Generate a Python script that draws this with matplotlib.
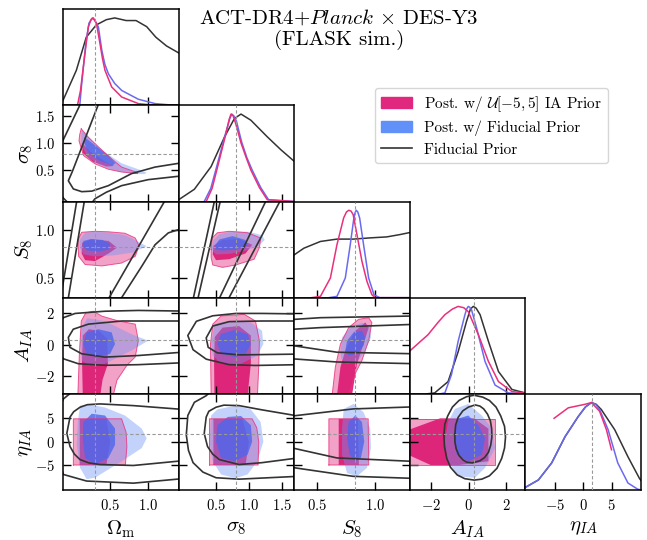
import matplotlib
matplotlib.use('Agg')
import matplotlib.pyplot as plt
from matplotlib.patches import Patch
from matplotlib.lines import Line2D

plt.rcParams['font.family'] = 'serif'
plt.rcParams['font.serif'] = ['cmr10']
plt.rcParams['mathtext.fontset'] = 'cm'
plt.rcParams['axes.unicode_minus'] = False
plt.rcParams['axes.formatter.use_mathtext'] = True

# parameters
labels = [r'$\Omega_{\rm m}$', r'$\sigma_8$', r'$S_8$', r'$A_{IA}$', r'$\eta_{IA}$']
limits = [(-0.12, 1.40), (-0.07, 1.69), (0.30, 1.30), (-3.1, 3.0), (-10.2, 10.2)]
ticks = [[0.5, 1.0], [0.5, 1.0, 1.5], [0.5, 1.0], [-2, 0, 2], [-5, 0, 5]]
truth = [0.30, 0.80, 0.83, 0.30, 1.6]

# ---- 1D marginals (x, normalised density) ----
om_pink_x = [0.07, 0.11, 0.147, 0.185, 0.213, 0.248, 0.279, 0.32, 0.366, 0.40, 0.432, 0.52, 0.652, 0.87, 1.1, 1.4]
om_pink_p = [0.0, 0.17, 0.44, 0.71, 0.897, 0.98, 1.0, 0.936, 0.707, 0.53, 0.40, 0.21, 0.095, 0.02, 0.0, 0.0]
om_blue_x = [0.10, 0.126, 0.18, 0.221, 0.265, 0.30, 0.345, 0.39, 0.43, 0.477, 0.56, 0.652, 0.87, 1.09, 1.35, 1.4]
om_blue_p = [0.0, 0.25, 0.71, 0.94, 1.0, 0.97, 0.897, 0.63, 0.47, 0.36, 0.25, 0.17, 0.07, 0.02, 0.0, 0.0]
om_prior_x = [-0.12, 0.055, 0.186, 0.318, 0.45, 0.56, 0.71, 0.84, 0.98, 1.1, 1.24, 1.40]
om_prior_p = [0.057, 0.40, 0.78, 0.92, 0.98, 1.0, 0.97, 0.97, 0.90, 0.78, 0.68, 0.60]

sig8_pink_x = [0.35, 0.44, 0.525, 0.652, 0.70, 0.728, 0.76, 0.80, 0.88, 0.96, 1.03, 1.16, 1.28, 1.69]
sig8_pink_p = [0.0, 0.15, 0.40, 0.78, 0.94, 1.0, 0.98, 0.89, 0.67, 0.50, 0.36, 0.16, 0.02, 0.0]
sig8_blue_x = [0.32, 0.42, 0.51, 0.645, 0.71, 0.74, 0.77, 0.81, 0.89, 0.97, 1.05, 1.18, 1.30, 1.69]
sig8_blue_p = [0.0, 0.15, 0.40, 0.78, 0.95, 1.0, 0.98, 0.92, 0.68, 0.50, 0.36, 0.16, 0.02, 0.0]
sig8_prior_x = [-0.07, 0.17, 0.425, 0.63, 0.78, 0.88, 1.03, 1.28, 1.49, 1.69]
sig8_prior_p = [0.02, 0.14, 0.40, 0.74, 0.95, 1.0, 0.93, 0.74, 0.59, 0.46]

S8_pink_x = [0.45, 0.527, 0.613, 0.67, 0.728, 0.752, 0.772, 0.792, 0.81, 0.843, 0.886, 0.929, 0.972, 1.0, 1.3]
S8_pink_p = [0.0, 0.015, 0.225, 0.607, 0.913, 0.98, 1.0, 0.99, 0.95, 0.72, 0.416, 0.187, 0.034, 0.0, 0.0]
S8_blue_x = [0.6, 0.67, 0.742, 0.785, 0.814, 0.826, 0.837, 0.85, 0.866, 0.90, 0.944, 0.99, 1.04, 1.3]
S8_blue_p = [0.0, 0.015, 0.225, 0.607, 0.89, 0.97, 1.0, 0.98, 0.913, 0.607, 0.225, 0.034, 0.0, 0.0]
S8_prior_x = [0.30, 0.384, 0.527, 0.67, 0.814, 0.958, 1.1, 1.216, 1.30]
S8_prior_p = [0.49, 0.566, 0.643, 0.67, 0.67, 0.684, 0.695, 0.722, 0.745]

A_pink_x = [-3.1, -3.03, -2.14, -1.6, -1.25, -0.85, -0.55, -0.25, -0.015, 0.52, 1.05, 1.58, 2.29, 3.0]
A_pink_p = [0.49, 0.504, 0.676, 0.82, 0.905, 0.97, 1.0, 0.985, 0.94, 0.676, 0.37, 0.14, 0.026, 0.008]
A_blue_x = [-1.5, -1.25, -0.9, -0.55, -0.19, -0.1, -0.015, 0.06, 0.16, 0.43, 0.87, 1.4, 2.11, 3.0]
A_blue_p = [0.0, 0.01, 0.22, 0.6, 0.905, 0.97, 1.0, 0.99, 0.96, 0.75, 0.37, 0.10, 0.01, 0.0]
A_prior_x = [-2.2, -1.79, -1.08, -0.55, -0.105, 0.1, 0.25, 0.4, 0.61, 1.05, 1.58, 2.29, 3.0]
A_prior_p = [0.0, 0.01, 0.14, 0.48, 0.83, 0.97, 1.0, 0.98, 0.905, 0.6, 0.255, 0.05, 0.01]

eta_pink_x = [-5.14, -2.63, 0.3, 1.46, 2.9, 4.1, 5.0]
eta_pink_p = [0.82, 0.94, 0.98, 1.0, 0.9, 0.69, 0.46]
eta_blue_x = [-10.2, -7.9, -5.56, -3.2, -0.88, 0.4, 1.46, 2.2, 2.9, 4.4, 6.1, 7.9, 9.6, 10.2]
eta_blue_p = [0.03, 0.115, 0.31, 0.61, 0.84, 0.95, 1.0, 0.98, 0.92, 0.69, 0.31, 0.08, 0.01, 0.0]
eta_prior_x = [-10.2, -7.9, -5.56, -3.2, -0.88, 0.4, 1.46, 2.3, 3.2, 5.56, 7.9, 9.95, 10.2]
eta_prior_p = [0.03, 0.115, 0.31, 0.61, 0.84, 0.95, 1.0, 0.98, 0.92, 0.69, 0.38, 0.13, 0.11]

# ---- 2D contours: 95% / 68% regions, prior contour lines ----
om_sig8_pink95 = [(0.12, 1.26), (0.21, 1.11), (0.345, 0.93), (0.52, 0.71), (0.65, 0.56), (0.86, 0.46), (0.86, 0.44),
                  (0.65, 0.47), (0.476, 0.52), (0.30, 0.62), (0.15, 0.77), (0.09, 1.04), (0.10, 1.16)]
om_sig8_pink68 = [(0.13, 1.0), (0.25, 0.83), (0.45, 0.65), (0.55, 0.58), (0.45, 0.57), (0.27, 0.66), (0.14, 0.82)]
om_sig8_blue95 = [(0.13, 1.24), (0.24, 1.08), (0.41, 0.85), (0.65, 0.63), (0.87, 0.52), (0.98, 0.46), (0.95, 0.43),
                  (0.76, 0.44), (0.54, 0.50), (0.35, 0.61), (0.20, 0.75), (0.12, 0.97), (0.12, 1.15)]
om_sig8_blue68 = [(0.16, 1.11), (0.30, 0.96), (0.47, 0.78), (0.57, 0.63), (0.53, 0.59), (0.35, 0.68), (0.21, 0.83), (0.16, 1.0)]
om_sig8_prior = [
    [(0.36, 1.8), (0.34, 1.69), (0.0, 0.47), (-0.05, 0.31), (0.016, 0.16), (0.126, 0.11), (0.258, 0.12),
     (0.476, 0.22), (0.78, 0.44), (1.09, 0.56), (1.45, 0.64)],
    [(0.13, 1.8), (0.10, 1.69), (-0.12, 1.05), (-0.3, 0.5), (-0.12, 0.0), (-0.05, -0.1), (0.2, -0.2),
     (0.30, -0.02), (0.45, 0.10), (0.65, 0.22), (1.0, 0.33), (1.45, 0.40)],
]

om_S8_pink95 = [(0.075, 0.90), (0.126, 0.98), (0.30, 0.99), (0.48, 0.985), (0.695, 0.97), (0.83, 0.92), (0.88, 0.84),
                (0.83, 0.73), (0.65, 0.66), (0.39, 0.63), (0.17, 0.645), (0.085, 0.73)]
om_S8_pink68 = [(0.13, 0.87), (0.25, 0.905), (0.48, 0.89), (0.59, 0.82), (0.48, 0.76), (0.30, 0.68), (0.17, 0.69), (0.125, 0.76)]
om_S8_blue95 = [(0.104, 0.905), (0.168, 0.975), (0.30, 0.985), (0.50, 0.975), (0.70, 0.95), (0.85, 0.89), (0.98, 0.835),
                (0.80, 0.77), (0.55, 0.74), (0.30, 0.73), (0.15, 0.75), (0.10, 0.82)]
om_S8_blue68 = [(0.147, 0.89), (0.25, 0.91), (0.40, 0.90), (0.50, 0.86), (0.48, 0.80), (0.35, 0.78), (0.20, 0.79), (0.14, 0.83)]
om_S8_prior = [
    [(-0.15, 0.3), (0.07, 1.35)],
    [(-0.06, 0.25), (0.17, 1.35)],
    [(0.45, 0.25), (1.25, 1.35)],
    [(0.61, 0.25), (0.915, 0.626), (1.09, 0.85), (1.265, 0.974), (1.45, 1.02)],
]

sig8_S8_pink95 = [(0.425, 0.80), (0.44, 0.92), (0.52, 0.975), (0.70, 0.99), (0.98, 0.975), (1.18, 0.92), (1.16, 0.82),
                  (1.08, 0.70), (0.8, 0.64), (0.6, 0.615), (0.45, 0.64), (0.425, 0.72)]
sig8_S8_pink68 = [(0.46, 0.84), (0.6, 0.90), (0.85, 0.91), (1.05, 0.85), (0.95, 0.76), (0.7, 0.70), (0.5, 0.69), (0.45, 0.75)]
sig8_S8_blue95 = [(0.43, 0.80), (0.46, 0.90), (0.55, 0.96), (0.75, 0.99), (1.0, 0.985), (1.2, 0.95), (1.24, 0.90),
                  (1.15, 0.84), (0.95, 0.79), (0.7, 0.755), (0.5, 0.75)]
sig8_S8_blue68 = [(0.48, 0.84), (0.55, 0.905), (0.75, 0.94), (0.95, 0.90), (0.98, 0.84), (0.8, 0.80), (0.6, 0.79), (0.5, 0.80)]
sig8_S8_prior = [
    [(0.14, 0.25), (0.49, 1.35)],
    [(0.21, 0.25), (0.58, 1.35)],
    [(0.52, 0.25), (1.29, 1.35)],
    [(0.66, 0.25), (1.51, 1.35)],
]

om_A_pink95 = [(0.075, -3.2), (0.095, -0.56), (0.12, 1.52), (0.18, 2.04), (0.28, 2.14), (0.39, 1.83), (0.61, 1.52),
               (0.83, 1.32), (0.87, 0.28), (0.83, -0.76), (0.72, -1.29), (0.59, -2.23), (0.54, -3.2)]
om_A_pink68 = [(0.14, -3.2), (0.13, -1.0), (0.14, 0.6), (0.22, 1.0), (0.35, 0.9), (0.46, 0.4), (0.47, -1.2), (0.40, -2.2), (0.37, -3.2)]
om_A_blue95 = [(0.126, 1.11), (0.20, 1.7), (0.43, 1.52), (0.78, 0.69), (1.0, 0.27), (0.78, -0.35), (0.43, -1.19),
               (0.21, -1.29), (0.126, -0.98), (0.104, 0.06)]
om_A_blue68 = [(0.147, 0.06), (0.19, 0.8), (0.345, 1.0), (0.52, 0.8), (0.564, 0.06), (0.50, -0.56), (0.345, -0.77), (0.19, -0.56)]
om_A_prior = [
    [(1.45, 2.15), (0.87, 2.19), (0.43, 2.14), (0.04, 2.0), (-0.116, 1.73), (-0.3, 0.5), (-0.116, -0.875),
     (0.081, -1.19), (0.43, -1.29), (0.87, -1.25), (1.45, -1.13)],
    [(1.45, 1.52), (0.652, 1.52), (0.213, 1.32), (0.015, 1.0), (-0.05, 0.48), (-0.03, -0.15), (0.126, -0.56),
     (0.43, -0.77), (0.87, -0.67), (1.45, -0.46)],
]

sig8_A_pink95 = [(0.425, -3.2), (0.415, 0.06), (0.45, 1.32), (0.576, 1.84), (0.93, 1.94), (1.1, 1.52), (1.16, 0.27),
                 (1.15, -1.39), (1.13, -3.2)]
sig8_A_pink68 = [(0.475, -3.2), (0.47, -1.0), (0.48, 0.5), (0.6, 1.1), (0.85, 1.2), (1.03, 0.6), (1.03, -1.2), (0.98, -3.2)]
sig8_A_blue95 = [(0.425, 0.06), (0.475, 1.32), (0.68, 1.52), (1.03, 1.42), (1.2, 0.9), (1.22, 0.06), (1.13, -0.67),
                 (0.88, -1.19), (0.576, -1.19), (0.45, -0.67)]
sig8_A_blue68 = [(0.52, 0.06), (0.576, 0.69), (0.78, 0.94), (0.98, 0.69), (1.03, 0.06), (0.95, -0.56), (0.78, -0.77), (0.576, -0.56)]
sig8_A_prior = [
    [(1.75, 1.97), (1.2, 2.0), (0.8, 2.0), (0.45, 1.85), (0.2, 1.5), (0.07, 0.6), (0.15, -0.3), (0.35, -0.9),
     (0.7, -1.25), (1.1, -1.3), (1.75, -1.25)],
    [(1.75, 1.52), (1.2, 1.52), (0.7, 1.48), (0.45, 1.2), (0.35, 0.45), (0.38, -0.15), (0.52, -0.5), (0.85, -0.63), (1.75, -0.58)],
]

S8_A_pink95 = [(0.628, -3.2), (0.656, -1.4), (0.70, 0.06), (0.771, 1.1), (0.857, 1.625), (0.944, 1.73), (0.972, 1.42),
               (0.944, 0.27), (0.886, -0.98), (0.828, -1.81), (0.771, -3.2)]
S8_A_pink68 = [(0.67, -3.2), (0.70, -1.4), (0.742, -0.36), (0.828, 0.9), (0.915, 1.42), (0.944, 1.1), (0.90, 0.06),
               (0.843, -1.19), (0.80, -3.2)]
S8_A_blue95 = [(0.70, -0.36), (0.713, 0.48), (0.785, 1.1), (0.886, 1.42), (0.958, 1.21), (0.965, 0.48), (0.915, -0.36),
               (0.843, -1.08), (0.757, -1.19), (0.705, -0.88)]
S8_A_blue68 = [(0.742, -0.36), (0.757, 0.27), (0.814, 0.8), (0.886, 0.9), (0.915, 0.48), (0.90, -0.04), (0.843, -0.56), (0.771, -0.67)]
S8_A_prior = [
    [(0.25, 1.6), (0.527, 1.73), (1.35, 1.84)],
    [(0.25, 0.98), (0.527, 1.1), (1.35, 1.31)],
    [(0.25, 0.0), (0.67, -0.46), (1.35, -0.56)],
    [(0.25, -0.86), (0.67, -1.08), (1.35, -1.19)],
]

om_eta_pink95 = [(0.016, -4.9), (0.016, 4.9), (0.65, 4.9), (0.71, 2.0), (0.72, -1.0), (0.70, -4.9)]
om_eta_pink68 = [(0.10, -4.9), (0.10, 4.9), (0.45, 4.9), (0.50, 0.0), (0.45, -4.9)]
om_eta_blue95 = [(0.104, 7.7), (0.213, 8.0), (0.432, 7.3), (0.695, 5.6), (0.914, 2.85), (0.98, 0.75), (0.914, -1.32),
                 (0.652, -4.1), (0.30, -7.6), (0.19, -7.9), (0.104, -5.5), (0.06, -0.63), (0.075, 4.2)]
om_eta_blue68 = [(0.147, 4.2), (0.257, 5.97), (0.432, 5.6), (0.564, 2.85), (0.564, -0.63), (0.476, -3.4), (0.30, -4.8),
                 (0.17, -3.4), (0.14, 0.75)]
om_eta_prior = [
    [(1.45, 6.9), (0.805, 7.7), (0.367, 8.06), (0.20, 7.9), (0.104, 7.36), (0.02, 6.4), (-0.028, 5.27), (-0.07, 1.8),
     (-0.028, -0.97), (0.03, -2.6), (0.104, -3.75), (0.22, -4.45), (0.367, -4.8), (0.805, -5.0), (1.45, -4.0)],
    [(-0.01, 10.5), (-0.116, 9.1), (-0.3, 2.0), (-0.116, -6.9), (0.19, -8.3), (0.805, -8.75), (1.45, -7.8)],
]

sig8_eta_pink95 = [(0.40, -4.9), (0.40, 4.9), (1.05, 4.9), (1.12, 3.0), (1.15, 0.0), (1.14, -4.9)]
sig8_eta_pink68 = [(0.46, -4.9), (0.46, 4.9), (0.9, 4.9), (1.0, 0.0), (0.95, -4.9)]
sig8_eta_blue95 = [(0.425, 5.6), (0.52, 6.9), (0.80, 7.7), (1.03, 6.9), (1.18, 4.2), (1.22, 0.06), (1.13, -4.1),
                   (0.98, -6.9), (0.80, -7.7), (0.576, -6.9), (0.45, -4.1), (0.40, 0.06)]
sig8_eta_blue68 = [(0.52, 3.55), (0.68, 5.3), (0.88, 5.5), (1.03, 3.55), (1.05, 0.06), (0.98, -2.7), (0.78, -4.1),
                   (0.576, -3.4), (0.5, 0.06)]
sig8_eta_prior = [
    [(0.40, 10.5), (0.35, 9.8), (0.17, 8.4), (0.07, 5.6), (0.047, 1.46), (0.08, -1.8), (0.15, -4.4), (0.3, -6.4),
     (0.5, -7.6), (0.85, -7.9), (1.75, -7.3)],
    [(1.75, 5.5), (1.2, 6.8), (0.85, 7.7), (0.62, 7.8), (0.5, 7.36), (0.39, 6.5), (0.35, 5.27), (0.32, 1.8),
     (0.37, -0.97), (0.45, -2.6), (0.55, -3.75), (0.85, -4.8), (1.2, -4.4), (1.75, -3.4)],
]

S8_eta_pink95 = [(0.60, -4.9), (0.60, 4.9), (0.94, 4.9), (0.945, -4.9)]
S8_eta_pink68 = [(0.685, -4.9), (0.685, 4.9), (0.85, 4.9), (0.86, -4.9)]
S8_eta_blue95 = [(0.728, 7.0), (0.814, 8.06), (0.90, 6.3), (0.958, 2.85), (0.964, -1.32), (0.93, -5.5), (0.843, -7.3),
                 (0.757, -6.6), (0.714, -2.7), (0.714, 2.85)]
S8_eta_blue68 = [(0.771, 4.24), (0.828, 5.6), (0.886, 4.24), (0.906, 0.07), (0.877, -3.4), (0.828, -4.1), (0.78, -2.7), (0.757, 0.76)]
S8_eta_prior = [
    [(0.25, 5.4), (0.81, 7.0), (1.35, 7.45)],
    [(0.25, -1.1), (0.67, -3.4), (1.35, -4.15)],
    [(0.25, -5.3), (0.81, -7.3), (1.35, -7.75)],
]

A_eta_pink95 = [(-3.2, -4.9), (-3.2, 4.9), (1.42, 4.9), (1.42, -4.9)]
A_eta_pink68 = [(-3.2, 2.5), (-1.5, 5.0), (0.3, 5.0), (1.05, 2.8), (1.05, -4.1), (-0.5, -4.9), (-2.0, -4.9), (-3.2, -2.7)]
A_eta_blue95 = [(-0.72, 7.0), (-0.015, 8.06), (0.70, 5.6), (1.23, 2.85), (1.4, -1.32), (0.87, -5.5), (0.34, -7.6),
                (-0.55, -7.3), (-1.08, -4.1), (-1.26, 0.07), (-1.08, 4.24)]
A_eta_blue68 = [(-0.55, 4.93), (-0.015, 5.6), (0.52, 3.55), (0.87, 0.77), (0.70, -2.7), (-0.015, -4.1), (-0.63, -2.7), (-0.8, 1.46)]
A_eta_prior = [
    [(-1.3, 1.5), (-1.25, 3.8), (-1.1, 5.5), (-0.85, 7.4), (-0.5, 8.8), (-0.1, 9.6), (0.3, 9.9), (0.75, 9.5),
     (1.1, 8.8), (1.45, 7.4), (1.7, 5.5), (1.9, 3.3), (1.95, 1.0), (1.9, -1.3), (1.75, -3.5), (1.5, -5.6),
     (1.1, -7.2), (0.7, -7.9), (0.3, -8.1), (-0.2, -7.8), (-0.6, -7.0), (-0.95, -5.4), (-1.15, -3.5),
     (-1.27, -1.0), (-1.3, 1.5)],
    [(-0.72, 1.7), (-0.68, 3.6), (-0.55, 5.2), (-0.3, 6.6), (0.0, 7.4), (0.35, 7.85), (0.6, 7.6), (0.8, 7.0),
     (1.0, 5.9), (1.15, 4.5), (1.22, 2.8), (1.23, 1.0), (1.17, -0.7), (1.05, -2.2), (0.85, -3.3), (0.6, -4.0),
     (0.2, -4.45), (-0.1, -4.3), (-0.3, -3.8), (-0.5, -2.9), (-0.65, -1.5), (-0.72, 0.0), (-0.72, 1.7)],
]

# colours
pink_line = '#e8307c'
blue_line = '#6a6af0'
prior_col = '#333333'
pink95_col, pink68_col = '#e8569a', '#dc1f76'
blue95_col, blue68_col = '#6f95f7', '#4a66ee'

marg1d = {
    0: ((om_pink_x, om_pink_p), (om_blue_x, om_blue_p), (om_prior_x, om_prior_p)),
    1: ((sig8_pink_x, sig8_pink_p), (sig8_blue_x, sig8_blue_p), (sig8_prior_x, sig8_prior_p)),
    2: ((S8_pink_x, S8_pink_p), (S8_blue_x, S8_blue_p), (S8_prior_x, S8_prior_p)),
    3: ((A_pink_x, A_pink_p), (A_blue_x, A_blue_p), (A_prior_x, A_prior_p)),
    4: ((eta_pink_x, eta_pink_p), (eta_blue_x, eta_blue_p), (eta_prior_x, eta_prior_p)),
}
cont2d = {
    (1, 0): (om_sig8_pink95, om_sig8_pink68, om_sig8_blue95, om_sig8_blue68, om_sig8_prior),
    (2, 0): (om_S8_pink95, om_S8_pink68, om_S8_blue95, om_S8_blue68, om_S8_prior),
    (2, 1): (sig8_S8_pink95, sig8_S8_pink68, sig8_S8_blue95, sig8_S8_blue68, sig8_S8_prior),
    (3, 0): (om_A_pink95, om_A_pink68, om_A_blue95, om_A_blue68, om_A_prior),
    (3, 1): (sig8_A_pink95, sig8_A_pink68, sig8_A_blue95, sig8_A_blue68, sig8_A_prior),
    (3, 2): (S8_A_pink95, S8_A_pink68, S8_A_blue95, S8_A_blue68, S8_A_prior),
    (4, 0): (om_eta_pink95, om_eta_pink68, om_eta_blue95, om_eta_blue68, om_eta_prior),
    (4, 1): (sig8_eta_pink95, sig8_eta_pink68, sig8_eta_blue95, sig8_eta_blue68, sig8_eta_prior),
    (4, 2): (S8_eta_pink95, S8_eta_pink68, S8_eta_blue95, S8_eta_blue68, S8_eta_prior),
    (4, 3): (A_eta_pink95, A_eta_pink68, A_eta_blue95, A_eta_blue68, A_eta_prior),
}


def fill_poly(ax, pts, color, alpha, edge=None):
    xs, ys = zip(*pts)
    ax.fill(xs, ys, color=color, alpha=alpha, lw=0, joinstyle='round')
    if edge is not None:
        ax.plot(list(xs) + [xs[0]], list(ys) + [ys[0]], color=edge, lw=0.7, alpha=0.8)


fig = plt.figure(figsize=(6.47, 5.40), dpi=100)
gs = fig.add_gridspec(5, 5, left=0.0974, right=0.9907, bottom=0.0926, top=0.983, wspace=0, hspace=0)

for i in range(5):
    for j in range(i + 1):
        ax = fig.add_subplot(gs[i, j])
        ax.set_xlim(limits[j])
        ax.set_xticks(ticks[j])
        diag = (i == j)
        ax.tick_params(direction='in', length=6, width=1.0, top=not diag, right=not diag,
                       labelsize=10.5, pad=6)
        if diag:
            ax.set_ylim(0, 1.1)
            ax.set_yticks([])
            (px, pp), (bx, bp), (kx, kp) = marg1d[i]
            ax.plot(kx, kp, color=prior_col, lw=1.1)
            ax.plot(bx, bp, color=blue_line, lw=1.1)
            ax.plot(px, pp, color=pink_line, lw=1.1)
            ax.axvline(truth[j], color='#999999', lw=0.8, ls=(0, (3, 2)), zorder=5)
        else:
            ax.set_ylim(limits[i])
            ax.set_yticks(ticks[i])
            p95, p68, b95, b68, prior = cont2d[(i, j)]
            fill_poly(ax, p95, pink95_col, 0.55, edge=pink_line)
            fill_poly(ax, p68, pink68_col, 0.95)
            fill_poly(ax, b95, blue95_col, 0.42)
            fill_poly(ax, b68, blue68_col, 0.78)
            for line in prior:
                xs, ys = zip(*line)
                ax.plot(xs, ys, color=prior_col, lw=1.2)
            ax.axvline(truth[j], color='#999999', lw=0.8, ls=(0, (3, 2)), zorder=5)
            ax.axhline(truth[i], color='#999999', lw=0.8, ls=(0, (3, 2)), zorder=5)
        if i < 4:
            ax.tick_params(labelbottom=False)
        else:
            ax.set_xlabel(labels[j], fontsize=15, labelpad=4)
        if j > 0 or diag:
            ax.tick_params(labelleft=False)
        else:
            ax.set_ylabel(labels[i], fontsize=15, labelpad=0)
        for s in ax.spines.values():
            s.set_linewidth(1.1)

fig.text(0.524, 0.968, r'ACT-DR4+$\it{Planck}$ $\times$ DES-Y3', ha='center', va='center', fontsize=15)
fig.text(0.524, 0.926, '(FLASK sim.)', ha='center', va='center', fontsize=15)

handles = [Patch(color='#e0287e'), Patch(color='#6090f8'), Line2D([0], [0], color=prior_col, lw=1.2)]
leg_labels = [r'Post. w/ $\mathcal{U}[-5,5]$ IA Prior', 'Post. w/ Fiducial Prior', 'Fiducial Prior']
fig.legend(handles, leg_labels, loc='upper left', bbox_to_anchor=(0.568, 0.852), fontsize=11,
           frameon=True, edgecolor='#cccccc', fancybox=True, handlelength=2.0, labelspacing=0.45)

fig.savefig('out.png', dpi=100)
